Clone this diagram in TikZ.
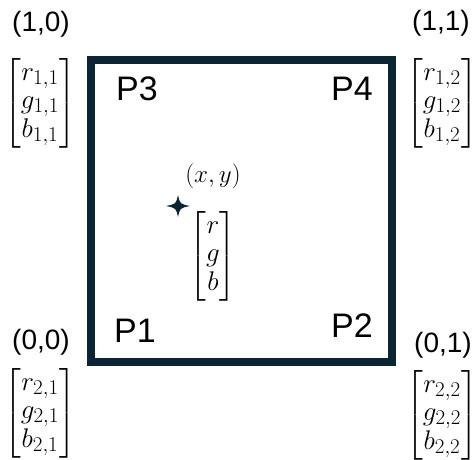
\RequirePackage{fix-cm}
\documentclass[tikz,border=0pt]{standalone}
\usepackage{amsmath}
\usepackage{fontspec}
\setmainfont{Liberation Sans}
\DeclareMathSizes{27}{27}{21}{16}
\DeclareMathSizes{25}{25}{19}{14}
\definecolor{navy}{HTML}{0B2535}
\tikzset{
  corner/.style={font=\fontsize{28}{32}\selectfont,inner sep=0pt},
  plabel/.style={font=\fontsize{34}{40}\selectfont,inner sep=0pt},
  vec/.style={font=\fontsize{27}{28.5}\selectfont,inner sep=0pt},
}
\begin{document}
\begin{tikzpicture}[x=1pt,y=-1pt]
\useasboundingbox (0,0) rectangle (476,459);
\coordinate (A) at (91,60);\coordinate (B) at (392,362);
\draw[navy,line width=8.5pt] (A) rectangle (B);
% corner coordinates and colours
\node[corner] (c10) at (41,24) {(1,0)};
\node[vec] (v11) at (40,103) {$\begin{bmatrix} r_{1,1}\\ g_{1,1}\\ b_{1,1}\end{bmatrix}$};
\node[corner] (c11) at (441,23) {(1,1)};
\node[vec] (v12) at (442,103) {$\begin{bmatrix} r_{1,2}\\ g_{1,2}\\ b_{1,2}\end{bmatrix}$};
\node[corner] (c00) at (41,342) {(0,0)};
\node[vec] (v21) at (40,413) {$\begin{bmatrix} r_{2,1}\\ g_{2,1}\\ b_{2,1}\end{bmatrix}$};
\node[corner] (c01) at (443,345) {(0,1)};
\node[vec] (v22) at (442,415) {$\begin{bmatrix} r_{2,2}\\ g_{2,2}\\ b_{2,2}\end{bmatrix}$};
% pixel names
\node[plabel] (p3) at (137,89) {P3};\node[plabel] (p4) at (352,89) {P4};
\node[plabel] (p1) at (135,331) {P1};\node[plabel] (p2) at (352,326) {P2};
% sample point
\coordinate (S) at (178,206);
\fill[navy,shift={(S)}] (12,0) .. controls (2,-2) .. (0,-11) .. controls (-2,-2) .. (-12,0)
  .. controls (-2,2) .. (0,11) .. controls (2,2) .. cycle;
\node[vec,font=\fontsize{25}{30}\selectfont] (xy) at (213,176) {$(x,y)$};
\node[vec] (rgb) at (213,256) {$\begin{bmatrix} r\\ g\\ b\end{bmatrix}$};
\end{tikzpicture}
\end{document}
